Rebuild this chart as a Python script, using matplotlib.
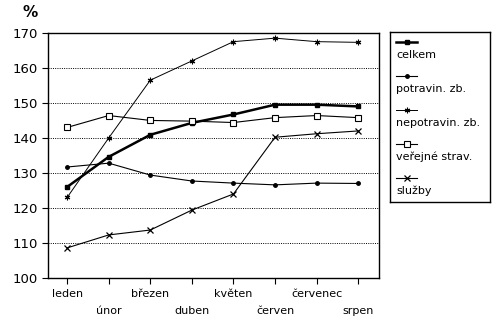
"""
Monthly index chart (%), months leden..srpen
"""

import matplotlib
matplotlib.use("Agg")
import matplotlib.pyplot as plt

plt.rcParams["font.family"] = ["DejaVu Sans"]

# Data
MONTHS = ["leden", "únor", "březen", "duben", "květen", "červen", "červenec", "srpen"]
CELKEM = [126.0, 134.6, 140.9, 144.3, 146.7, 149.5, 149.5, 149.0]
POTRAVIN = [131.7, 132.8, 129.4, 127.7, 127.1, 126.6, 127.1, 127.0]
NEPOTRAVIN = [123.0, 140.0, 156.5, 162.0, 167.5, 168.5, 167.5, 167.3]
VEREJNE = [143.0, 146.4, 145.0, 144.8, 144.4, 145.8, 146.4, 145.8]
SLUZBY = [108.6, 112.3, 113.7, 119.4, 124.0, 140.2, 141.2, 142.0]
LABELS = ["celkem", "potravin. zb.", "nepotravin. zb.", "veřejné strav.", "služby"]
Y_TICKS = [100, 110, 120, 130, 140, 150, 160, 170]

STYLES = [
    dict(lw=1.8, marker="s", ms=3.5, mfc="black"),
    dict(lw=0.8, marker="o", ms=2.5, mfc="black"),
    dict(lw=0.7, marker=(6, 2, 0), ms=4, mew=0.8),
    dict(lw=0.8, marker="s", ms=4, mfc="white", mew=0.8),
    dict(lw=0.8, marker="x", ms=4.5, mew=0.9),
]

fig = plt.figure(figsize=(5.0, 3.29), dpi=100)
ax = fig.add_axes([0.096, 0.155, 0.662, 0.745])

x = list(range(len(MONTHS)))
series = [CELKEM, POTRAVIN, NEPOTRAVIN, VEREJNE, SLUZBY]
for vals, st in zip(series, STYLES):
    ax.plot(x, vals, color="black", mec="black", **st)

ax.set_xlim(-0.46, 7.5)
ax.set_ylim(100, 170)
ax.set_yticks(Y_TICKS)
ax.set_yticklabels([str(v) for v in Y_TICKS], fontsize=9.5)
for v in Y_TICKS[1:-1]:
    ax.axhline(v, color="black", lw=0.7, ls=(0, (1.0, 1.3)), zorder=0)

ax.set_xticks(x)
ax.set_xticklabels(["" for _ in MONTHS])
for i, m in enumerate(MONTHS):
    off = -0.045 if i % 2 == 0 else -0.115
    ax.text(i, off, m, transform=ax.get_xaxis_transform(), ha="center", va="top",
            fontsize=8)

ax.tick_params(direction="out", length=4, width=0.8, color="black")
for s in ax.spines.values():
    s.set_linewidth(1.0)

fig.text(0.045, 0.94, "%", fontsize=11, fontweight="bold", ha="left", va="bottom")

# legend box drawn by hand: sample line above each label
lax = fig.add_axes([0.78, 0.386, 0.2, 0.517])
lax.set_xlim(0, 1)
lax.set_ylim(0, 1)
lax.set_xticks([])
lax.set_yticks([])
for s in lax.spines.values():
    s.set_linewidth(1.0)
step = 1.0 / len(LABELS)
for i, (lab, st) in enumerate(zip(LABELS, STYLES)):
    ytop = 1 - i * step
    ys = ytop - 0.06
    lax.plot([0.06, 0.27], [ys, ys], color="black", lw=st["lw"])
    lax.plot([0.165], [ys], color="black", mec="black", ls="none",
             marker=st["marker"], ms=st["ms"], mfc=st.get("mfc", "black"),
             mew=st.get("mew", 1.0))
    lax.text(0.06, ytop - 0.135, lab, fontsize=8, ha="left", va="center")

fig.savefig("out.png", dpi=100)
